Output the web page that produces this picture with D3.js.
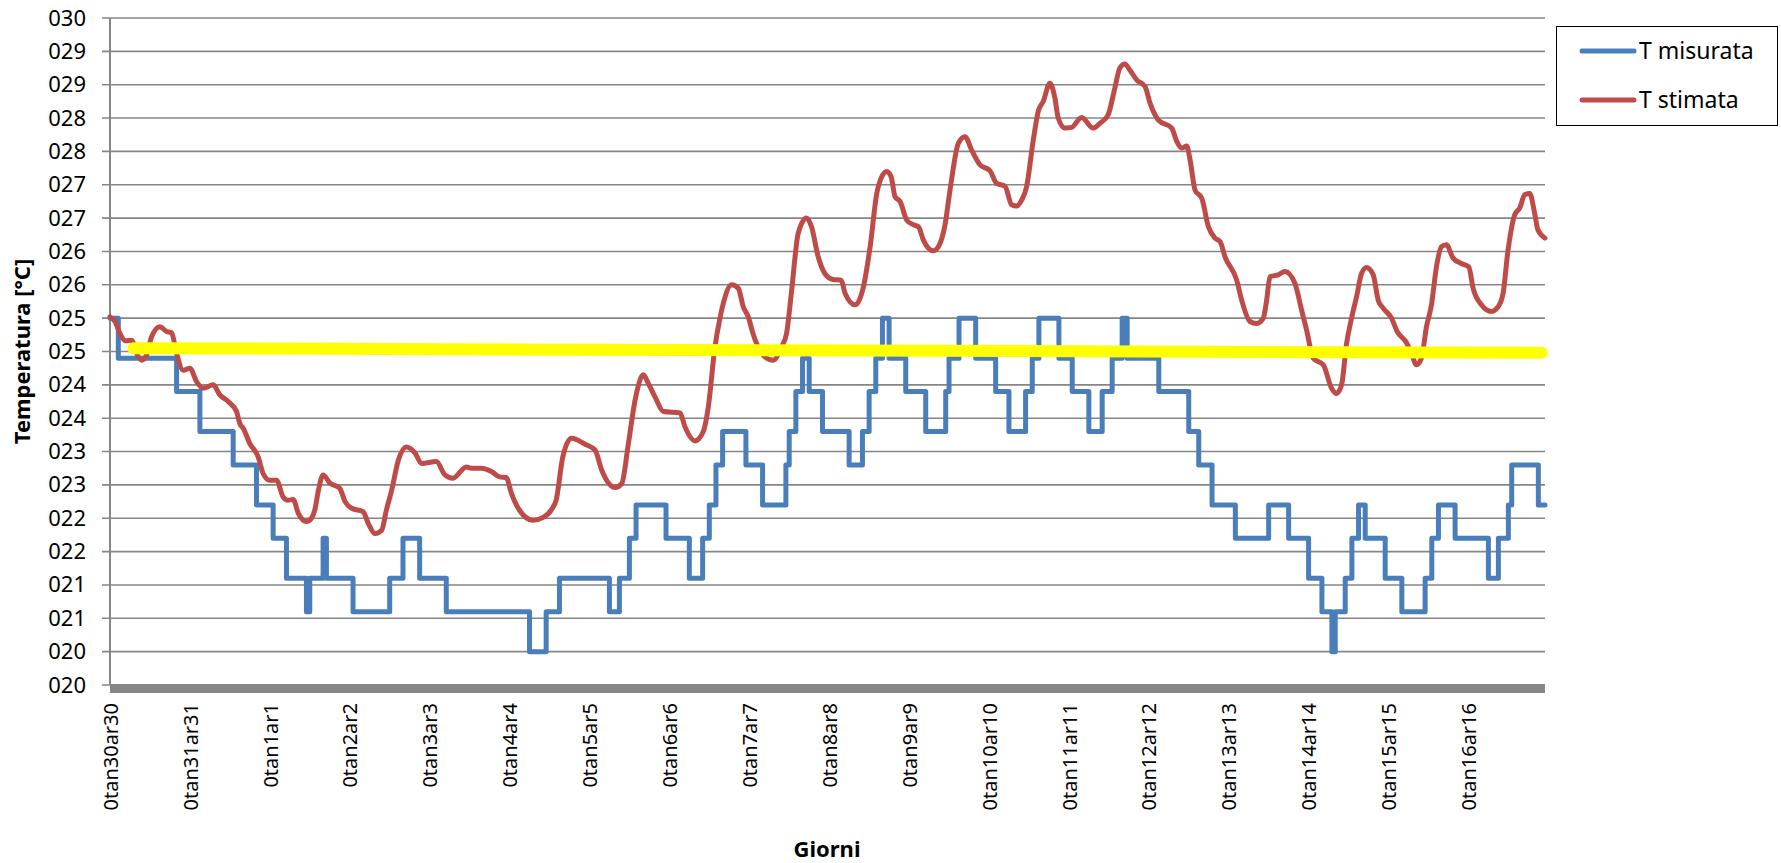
<!DOCTYPE html>
<html>
<head>
<meta charset="utf-8">
<script src="https://cdn.jsdelivr.net/npm/d3@7"></script>
<style>
  body { margin: 0; background: #fff; }
  text { font-family: "Noto Sans", sans-serif; }
</style>
</head>
<body>
<svg width="1781" height="863"></svg>
<script>
// giorni (etichette asse x, una ogni 24 ore)
var giorni = ["0tan30ar30", "0tan31ar31", "0tan1ar1", "0tan2ar2", "0tan3ar3", "0tan4ar4",
  "0tan5ar5", "0tan6ar6", "0tan7ar7", "0tan8ar8", "0tan9ar9", "0tan10ar10", "0tan11ar11",
  "0tan12ar12", "0tan13ar13", "0tan14ar14", "0tan15ar15", "0tan16ar16"]
var oreGiorni = giorni.map(function (d, i) { return i * 24 })

var yTicks = [20, 20.5, 21, 21.5, 22, 22.5, 23, 23.5, 24, 24.5, 25, 25.5, 26, 26.5, 27, 27.5, 28, 28.5, 29, 29.5, 30]
var yLabels = ["020", "020", "021", "021", "022", "022", "023", "023", "024", "024", "025",
  "025", "026", "026", "027", "027", "028", "028", "029", "029", "030"]

// T misurata: cambi di livello (ora, valore)
var misurataOre = [0, 2.5, 20, 27, 37, 44, 49, 53, 59, 60, 64, 65, 73, 84, 88, 93, 101, 126, 131, 135,
  150, 153, 156, 158, 167, 174, 178, 180, 182, 184, 191, 196, 203, 204, 206, 208, 210, 214, 222, 226,
  228, 230, 232, 234, 239, 245, 251, 252, 255, 260, 266, 270, 275, 277, 279, 285, 289, 294, 298, 301,
  304, 305.5, 315, 324, 327, 331, 338, 348, 354, 360, 364, 367, 368, 371, 373, 375, 377, 383, 388, 395,
  397, 399, 404, 414, 417, 420, 421, 429, 431]
var misurataT = [25.5, 24.9, 24.4, 23.8, 23.3, 22.7, 22.2, 21.6, 21.1, 21.6, 22.2, 21.6, 21.1, 21.6, 22.2, 21.6, 21.1, 20.5, 21.1, 21.6,
  21.1, 21.6, 22.2, 22.7, 22.2, 21.6, 22.2, 22.7, 23.3, 23.8, 23.3, 22.7, 23.3, 23.8, 24.4, 24.9, 24.4, 23.8, 23.3, 23.8,
  24.4, 24.9, 25.5, 24.9, 24.4, 23.8, 24.4, 24.9, 25.5, 24.9, 24.4, 23.8, 24.4, 24.9, 25.5, 24.9, 24.4, 23.8, 24.4, 24.9,
  25.5, 24.9, 24.4, 23.8, 23.3, 22.7, 22.2, 22.7, 22.2, 21.6, 21.1, 20.5, 21.1, 21.6, 22.2, 22.7, 22.2, 21.6, 21.1, 21.6,
  22.2, 22.7, 22.2, 21.6, 22.2, 22.7, 23.3, 22.7, 22.7]

// T stimata (ora, valore)
var stimataOre = [0, 1.5, 3, 4.5, 6.5, 8, 9.5, 11, 12.5, 15, 17, 18.5, 20, 22, 24, 26, 28, 31, 33, 35.5,
  38, 39, 40, 42, 44.5, 46, 48, 50, 52, 53.5, 55, 56.6, 59, 60.5, 61.5, 62.6, 64, 66, 69, 70.6,
  72.6, 76, 77.6, 79.6, 81.6, 83, 84.6, 86.6, 89, 91.6, 93.6, 98, 100.6, 103, 107, 108.6, 111.6, 114.6, 117, 119,
  120.6, 123, 127, 130, 132.6, 134, 136, 138.6, 142.7, 145.7, 147.7, 151.7, 153.7, 155.7, 157.7, 160.2, 161.7, 163.7, 166.2, 171.2,
  172.7, 175.7, 178.2, 179.7, 181.7, 183.2, 184.2, 186.7, 188.7, 190.2, 191.7, 193, 194.2, 196.7, 199.2, 201.7, 203.2, 204.7, 206.7, 209.2,
  210.7, 212.7, 214.7, 217.2, 219.6, 220.8, 223.8, 226.2, 228.3, 230.3, 231.8, 233.3, 234.6, 235.8, 237.3, 239.3, 241.3, 242.8, 244.3, 247.3,
  248.8, 250.8, 252.3, 254.8, 256.8, 258.8, 261.3, 264.3, 266.3, 268.8, 270.8, 272.3, 273.8, 275.3, 277.3, 278.8, 280.3, 282.3, 283.8, 284.8,
  286.8, 288.8, 291.8, 295.3, 297.3, 299.8, 301.8, 303.3, 304.8, 306.3, 308.4, 310.9, 312.4, 314.9, 318.9, 320.4, 321.9, 323.4, 324.4, 325.9,
  327.9, 329.9, 331.9, 333.4, 334.9, 338.4, 339.9, 342.4, 344.4, 346.4, 347.4, 348.4, 350.9, 352.9, 355.9, 357.9, 359.4, 361.4, 364.4, 366.9,
  368.4, 369.9, 371.4, 372.9, 374.4, 375.9, 377.4, 379.4, 380.9, 382.4, 384.9, 386.6, 389.4, 390.9, 392.4, 393.9, 395.4, 396.9, 398.4, 399.9,
  401.4, 403.4, 405.9, 408.1, 409.4, 411.9, 414.9, 416.9, 418.4, 419.9, 421.9, 423.4, 424.9, 426.4, 427.9, 428.9, 431]
var stimataT = [25.52, 25.45, 25.27, 25.16, 25.17, 24.97, 24.87, 24.95, 25.22, 25.37, 25.30, 25.28, 24.97, 24.72, 24.75, 24.55, 24.45, 24.50, 24.35, 24.25,
  24.10, 23.92, 23.85, 23.62, 23.42, 23.17, 23.07, 23.07, 22.82, 22.77, 22.78, 22.57, 22.45, 22.50, 22.62, 22.92, 23.15, 23.03, 22.95, 22.75,
  22.65, 22.60, 22.42, 22.27, 22.32, 22.62, 22.92, 23.37, 23.57, 23.48, 23.32, 23.35, 23.15, 23.10, 23.27, 23.25, 23.25, 23.20, 23.12, 23.11,
  22.87, 22.62, 22.47, 22.51, 22.63, 22.77, 23.42, 23.70, 23.61, 23.52, 23.22, 22.96, 23.02, 23.62, 24.27, 24.65, 24.52, 24.32, 24.10, 24.08,
  23.87, 23.66, 23.80, 24.17, 25.07, 25.50, 25.72, 26.00, 25.95, 25.67, 25.52, 25.29, 25.12, 24.92, 24.87, 25.07, 25.27, 25.90, 26.77, 27.00,
  26.87, 26.42, 26.17, 26.08, 26.07, 25.87, 25.70, 25.95, 26.57, 27.37, 27.62, 27.70, 27.62, 27.32, 27.25, 26.97, 26.90, 26.87, 26.67, 26.51,
  26.57, 26.90, 27.42, 28.12, 28.22, 28.02, 27.80, 27.71, 27.52, 27.48, 27.20, 27.18, 27.27, 27.47, 28.17, 28.60, 28.75, 29.02, 28.80, 28.50,
  28.35, 28.36, 28.51, 28.35, 28.42, 28.55, 28.95, 29.25, 29.31, 29.22, 29.07, 28.97, 28.72, 28.47, 28.35, 28.15, 28.05, 28.08, 27.87, 27.42,
  27.30, 26.87, 26.70, 26.65, 26.42, 26.07, 25.77, 25.45, 25.42, 25.50, 25.77, 26.12, 26.15, 26.20, 26.02, 25.62, 25.32, 24.90, 24.80, 24.45,
  24.37, 24.50, 25.12, 25.50, 25.82, 26.17, 26.26, 26.15, 25.77, 25.65, 25.50, 25.30, 25.13, 24.97, 24.80, 24.90, 25.37, 25.70, 26.27, 26.57,
  26.60, 26.40, 26.32, 26.27, 25.95, 25.70, 25.60, 25.67, 25.87, 26.52, 27.05, 27.15, 27.35, 27.37, 27.07, 26.82, 26.70]

// linea gialla
var gialloOre = [7, 430]
var gialloT = [25.05, 24.98]

var serie = [
  { nome: "T misurata", colore: "#4A7EBB" },
  { nome: "T stimata", colore: "#BE4B48" }
]

var svg = d3.select("svg")
var mLeft = 110, mRight = 1545, mTop = 18, mBottom = 685
var grigio = "#868686"

var x = d3.scaleLinear().domain([0, 431]).range([mLeft, mRight])
var y = d3.scaleLinear().domain([20, 30]).range([mBottom, mTop])

svg.append("rect").attr("width", 1781).attr("height", 863).attr("fill", "#fff")

// griglia
svg.append("g").selectAll("line")
  .data(yTicks)
  .enter()
  .append("line")
  .attr("x1", mLeft - 8)
  .attr("x2", mRight)
  .attr("y1", function (d) { return y(d) })
  .attr("y2", function (d) { return y(d) })
  .attr("stroke", grigio)
  .attr("stroke-width", 1.6)

// asse y
var gy = svg.append("g").attr("transform", "translate(" + mLeft + ",0)")
  .call(d3.axisLeft(y).tickValues(yTicks).tickSize(0).tickPadding(24)
    .tickFormat(function (d, i) { return yLabels[i] }))
gy.select(".domain").remove()
gy.selectAll("text").attr("font-size", "22px").attr("fill", "#000")
  .attr("font-family", "'Noto Sans', sans-serif")

svg.append("line")
  .attr("x1", mLeft).attr("x2", mLeft)
  .attr("y1", mTop).attr("y2", mBottom)
  .attr("stroke", grigio).attr("stroke-width", 2)

// asse x
var gx = svg.append("g").attr("transform", "translate(0," + mBottom + ")")
  .call(d3.axisBottom(x).tickValues(oreGiorni).tickSize(0)
    .tickFormat(function (d, i) { return giorni[i] }))
gx.select(".domain").remove()
gx.selectAll("text")
  .attr("font-size", "20px")
  .attr("fill", "#000")
  .attr("font-family", "'Noto Sans', sans-serif")
  .attr("text-anchor", "end")
  .attr("transform", "rotate(-90)")
  .attr("x", -18)
  .attr("y", 0)
  .attr("dy", "0.36em")

svg.append("line")
  .attr("x1", mLeft).attr("x2", mRight)
  .attr("y1", mBottom + 3.5).attr("y2", mBottom + 3.5)
  .attr("stroke", grigio).attr("stroke-width", 9)

// serie
var misurata = misurataOre.map(function (h, i) { return [h, misurataT[i]] })
var stimata = stimataOre.map(function (h, i) { return [h, stimataT[i]] })
var giallo = gialloOre.map(function (h, i) { return [h, gialloT[i]] })

var linea = d3.line()
  .x(function (d) { return x(d[0]) })
  .y(function (d) { return y(d[1]) })

svg.append("path")
  .datum(misurata)
  .attr("d", linea.curve(d3.curveStepAfter))
  .attr("fill", "none")
  .attr("stroke", serie[0].colore)
  .attr("stroke-width", 5)
  .attr("stroke-linejoin", "round")
  .attr("stroke-linecap", "round")

svg.append("path")
  .datum(stimata)
  .attr("d", linea.curve(d3.curveMonotoneX))
  .attr("fill", "none")
  .attr("stroke", serie[1].colore)
  .attr("stroke-width", 5)
  .attr("stroke-linejoin", "round")
  .attr("stroke-linecap", "round")

svg.append("path")
  .datum(giallo)
  .attr("d", linea.curve(d3.curveLinear))
  .attr("fill", "none")
  .attr("stroke", "#FFFF00")
  .attr("stroke-width", 12)
  .attr("stroke-linecap", "round")

// titoli assi
svg.append("text")
  .attr("transform", "translate(22," + ((mTop + mBottom) / 2) + ") rotate(-90)")
  .attr("text-anchor", "middle")
  .attr("dy", "0.35em")
  .attr("font-size", "22px")
  .attr("font-weight", "bold")
  .text("Temperatura [°C]")

svg.append("text")
  .attr("x", 827)
  .attr("y", 857)
  .attr("text-anchor", "middle")
  .attr("font-size", "22px")
  .attr("font-weight", "bold")
  .text("Giorni")

// legenda
var leg = svg.append("g")
leg.append("rect")
  .attr("x", 1556.5).attr("y", 26.5)
  .attr("width", 221).attr("height", 99)
  .attr("fill", "#fff").attr("stroke", "#000").attr("stroke-width", 1)

serie.forEach(function (s, i) {
  var yy = 51 + i * 49
  leg.append("line")
    .attr("x1", 1582).attr("x2", 1634)
    .attr("y1", yy).attr("y2", yy)
    .attr("stroke", s.colore).attr("stroke-width", 5)
    .attr("stroke-linecap", "round")
  leg.append("text")
    .attr("x", 1639).attr("y", yy)
    .attr("dy", "0.35em")
    .attr("font-size", "23px")
    .text(s.nome)
})
</script>
</body>
</html>
